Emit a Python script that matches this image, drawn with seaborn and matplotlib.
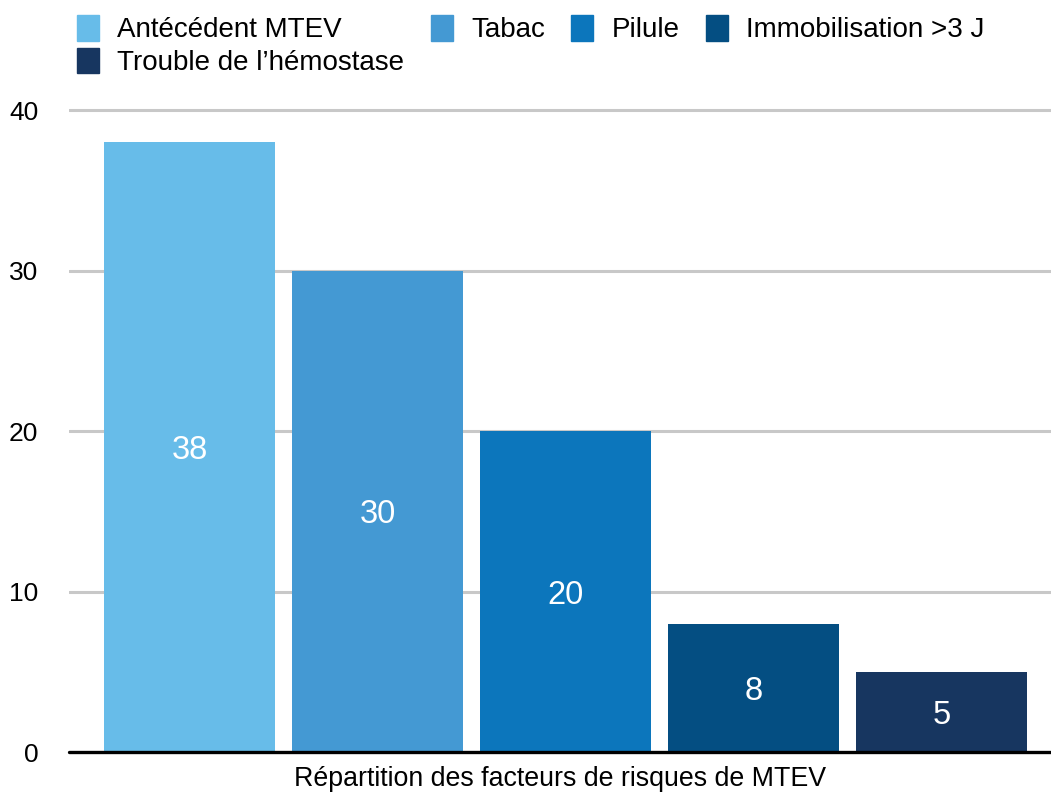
import matplotlib
matplotlib.use("Agg")
import matplotlib.pyplot as plt
import seaborn as sns
import pandas as pd

categories = ["Antécédent MTEV", "Tabac", "Pilule", "Immobilisation >3 J", "Trouble de l\u2019hémostase"]
values = [38, 30, 20, 8, 5]
colors = ["#67BCE9", "#4499D3", "#0C76BC", "#044E82", "#173660"]

sns.set_style("white")
plt.rcParams["font.family"] = ["Liberation Sans", "DejaVu Sans"]
plt.rcParams["text.color"] = "black"
plt.rcParams["ytick.color"] = "black"
plt.rcParams["axes.labelcolor"] = "black"

df = pd.DataFrame({"facteur": categories, "valeur": values})

fig = plt.figure(figsize=(10.51, 7.96), dpi=100)
ax = fig.add_axes([69 / 1051, 1 - 752 / 796, 1 - 69 / 1051, (752 - 94) / 796])

sns.barplot(data=df, x="facteur", y="valeur", hue="facteur", order=categories,
            hue_order=categories, palette=colors, width=0.91, dodge=False,
            saturation=1, legend=False, linewidth=0, ax=ax)

for i, v in enumerate(values):
    ax.text(i, v / 2, str(v), ha="center", va="center_baseline", color="white", fontsize=23.5)

ax.set_ylim(0, 41)
ax.set_xlim(-0.641, 4.58)
ax.set_yticks([0, 10, 20, 30, 40])
ax.set_xticks([])
ax.tick_params(axis="y", length=0, labelsize=19, pad=22)
for y in [10, 20, 30, 40]:
    ax.axhline(y, color="#C8C8C8", lw=2.2, zorder=0)
ax.axhline(0, color="black", lw=2.4, zorder=3, clip_on=False)
for s in ax.spines.values():
    s.set_visible(False)
ax.set_ylabel("")
ax.set_xlabel("Répartition des facteurs de risques de MTEV", fontsize=19.3, labelpad=10)

# matplotlib fills legend columns first, so reorder to read row by row
order = [0, 4, 1, 2, 3]
handles = [plt.Rectangle((0, 0), 1, 1, color=colors[k]) for k in order]
labels = [categories[k] for k in order]
fig.legend(handles, labels, loc="upper left", bbox_to_anchor=(77 / 1051, 1 - 15 / 796),
           ncol=4, frameon=False, fontsize=20, handlelength=0.8, handleheight=1.05,
           handletextpad=0.65, columnspacing=0.95, labelspacing=0.15, borderpad=0,
           borderaxespad=0)

fig.savefig("out.png", dpi=100)
